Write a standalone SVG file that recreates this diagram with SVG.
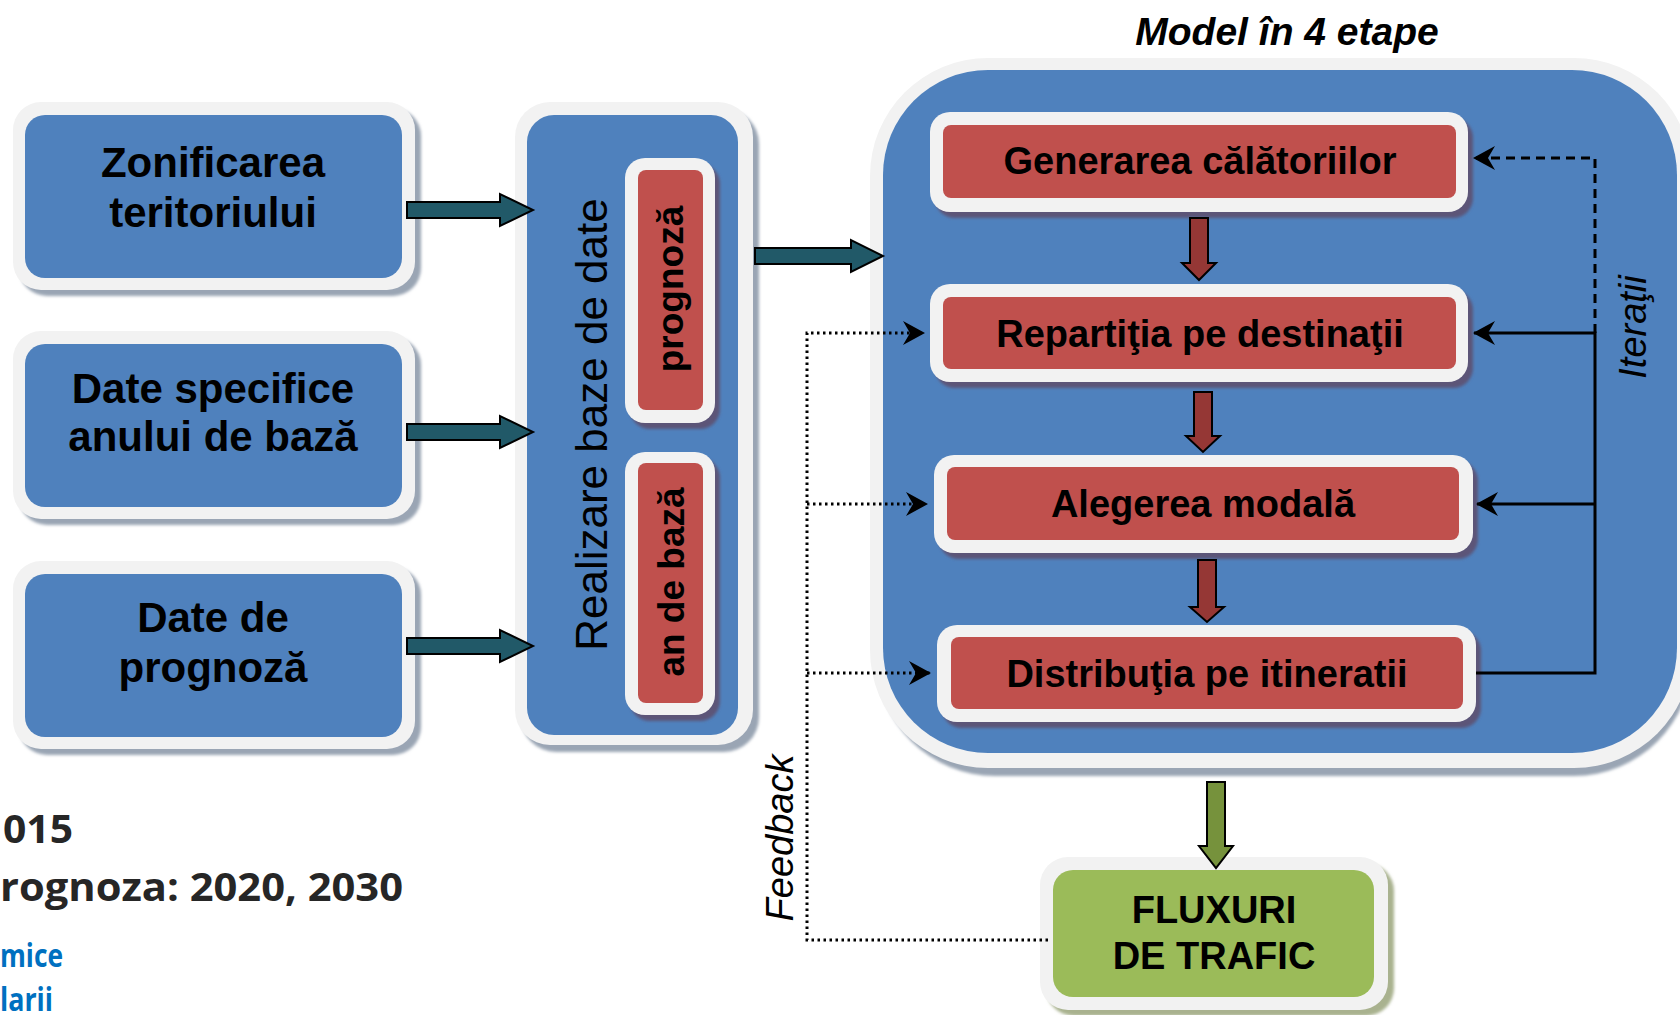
<svg xmlns="http://www.w3.org/2000/svg" width="1680" height="1015" viewBox="0 0 1680 1015">
<defs>
<filter id="blur" x="-10%" y="-10%" width="120%" height="120%"><feGaussianBlur stdDeviation="1.5"/></filter>
<marker id="stealth" viewBox="0 0 22 24" refX="21" refY="12" markerWidth="22" markerHeight="24" markerUnits="userSpaceOnUse" orient="auto"><path d="M0,0 L22,12 L0,24 L7,12 Z" fill="#000"/></marker>
</defs>
<style>
.big{font-family:"Liberation Sans",Arial,sans-serif;font-weight:bold;font-size:42px;fill:#000;text-anchor:middle}
.step{font-family:"Liberation Sans",Arial,sans-serif;font-weight:bold;font-size:38px;fill:#000;text-anchor:middle}
.sub{font-family:"Liberation Sans",Arial,sans-serif;font-weight:bold;font-size:37px;fill:#000;text-anchor:middle}
.vert{font-family:"Liberation Sans",Arial,sans-serif;font-size:44px;fill:#000;text-anchor:middle}
.ital{font-family:"Liberation Sans",Arial,sans-serif;font-style:italic;font-size:38px;fill:#000;text-anchor:middle}
.title{font-family:"Liberation Sans",Arial,sans-serif;font-style:italic;font-weight:bold;font-size:39px;fill:#000;text-anchor:middle}
.note{font-family:"Open Sans",Lato,sans-serif;font-weight:bold;fill:#262626}
.noteb{font-family:"Open Sans",Lato,sans-serif;font-weight:bold;fill:#0070c0}
.sh{fill:#9aa5b4;filter:url(#blur)}
.shr{fill:#5b5478;filter:url(#blur)}
.wb{fill:#f2f2f2}
.blue{fill:#4f81bd}
.red{fill:#c0504d}
.teal{fill:#215968;stroke:#000;stroke-width:2}
.darr{fill:#953735;stroke:#000;stroke-width:2}
.garr{fill:#76923c;stroke:#000;stroke-width:2}
.dot{fill:none;stroke:#000;stroke-width:3;stroke-dasharray:2.5 3.5}
.dash{fill:none;stroke:#000;stroke-width:3;stroke-dasharray:9 6}
.solid{fill:none;stroke:#000;stroke-width:3}
</style>
<rect x="0" y="0" width="1680" height="1015" fill="#fff"/>

<g id="zonificarea">
<rect class="sh" x="19" y="108" width="402" height="188" rx="28"/>
<rect class="wb" x="13" y="102" width="402" height="188" rx="28"/>
<rect class="blue" x="25" y="115" width="377" height="163" rx="20"/>
<text class="big" x="213" y="177">Zonificarea</text>
<text class="big" x="213" y="227">teritoriului</text>
</g>

<g id="date-specifice">
<rect class="sh" x="19" y="337" width="402" height="188" rx="28"/>
<rect class="wb" x="13" y="331" width="402" height="188" rx="28"/>
<rect class="blue" x="25" y="344" width="377" height="163" rx="20"/>
<text class="big" x="213" y="403">Date specifice</text>
<text class="big" x="213" y="451">anului de bază</text>
</g>

<g id="date-prognoza">
<rect class="sh" x="19" y="567" width="402" height="188" rx="28"/>
<rect class="wb" x="13" y="561" width="402" height="188" rx="28"/>
<rect class="blue" x="25" y="574" width="377" height="163" rx="20"/>
<text class="big" x="213" y="632">Date de</text>
<text class="big" x="213" y="682">prognoză</text>
</g>

<g id="baze-de-date">
<rect class="sh" x="521" y="109" width="238" height="643" rx="35"/>
<rect class="wb" x="515" y="102" width="238" height="643" rx="35"/>
<rect class="blue" x="527" y="115" width="211" height="620" rx="27"/>
<text class="vert" transform="translate(607,424.5) rotate(-90)">Realizare baze de date</text>
</g>

<g id="sub-prognoza">
<rect class="shr" x="630" y="164" width="90" height="265" rx="20"/>
<rect class="wb" x="625" y="158" width="90" height="265" rx="20"/>
<rect class="red" x="638" y="170" width="65" height="240" rx="8"/>
<text class="sub" transform="translate(683,289) rotate(-90)">prognoză</text>
</g>

<g id="sub-an-de-baza">
<rect class="shr" x="630" y="458" width="90" height="263" rx="20"/>
<rect class="wb" x="625" y="452" width="90" height="263" rx="20"/>
<rect class="red" x="638" y="463" width="65" height="240" rx="8"/>
<text class="sub" transform="translate(684,582) rotate(-90)">an de bază</text>
</g>

<g id="model-4-etape">
<text class="title" x="1287" y="45">Model în 4 etape</text>
<rect class="sh" x="877" y="66" width="815" height="710" rx="118"/>
<rect class="wb" x="870" y="58" width="822" height="710" rx="118"/>
<rect class="blue" x="883" y="70" width="794" height="683" rx="105"/>
</g>

<g id="generarea">
<rect class="shr" x="935" y="118" width="538" height="100" rx="20"/>
<rect class="wb" x="930" y="112" width="538" height="100" rx="20"/>
<rect class="red" x="943" y="125" width="513" height="73" rx="8"/>
<text class="step" x="1200" y="174">Generarea călătoriilor</text>
</g>

<g id="repartitia">
<rect class="shr" x="935" y="290" width="538" height="98" rx="20"/>
<rect class="wb" x="930" y="284" width="538" height="98" rx="20"/>
<rect class="red" x="943" y="297" width="513" height="72" rx="8"/>
<text class="step" x="1200" y="347">Repartiţia pe destinaţii</text>
</g>

<g id="alegerea">
<rect class="shr" x="939" y="461" width="539" height="98" rx="20"/>
<rect class="wb" x="934" y="455" width="539" height="98" rx="20"/>
<rect class="red" x="947" y="467" width="512" height="73" rx="8"/>
<text class="step" x="1203" y="517">Alegerea modală</text>
</g>

<g id="distributia">
<rect class="shr" x="942" y="631" width="539" height="97" rx="20"/>
<rect class="wb" x="937" y="625" width="539" height="97" rx="20"/>
<rect class="red" x="951" y="637" width="512" height="72" rx="8"/>
<text class="step" x="1207" y="687">Distribuţia pe itineratii</text>
</g>

<g id="fluxuri">
<rect class="sh" x="1046" y="863" width="348" height="153" rx="28" style="fill:#a9b28f"/>
<rect class="wb" x="1040" y="857" width="348" height="153" rx="28"/>
<rect x="1053" y="870" width="321" height="127" rx="20" fill="#9bbb59"/>
<text class="step" x="1214" y="923">FLUXURI</text>
<text class="step" x="1214" y="969">DE TRAFIC</text>
</g>

<g id="connectors">
<polygon class="teal" points="407,202 500,202 500,194 533,210 500,226 500,218 407,218"/>
<polygon class="teal" points="407,424 500,424 500,416 533,432 500,448 500,440 407,440"/>
<polygon class="teal" points="407,638 500,638 500,630 533,646 500,662 500,654 407,654"/>
<polygon class="teal" points="755,248 851,248 851,240 883,256 851,272 851,264 755,264"/>
<polygon class="darr" points="1190,218 1208,218 1208,263 1216,263 1199,280 1182,263 1190,263"/>
<polygon class="darr" points="1194,392 1212,392 1212,436 1220,436 1203,452 1186,436 1194,436"/>
<polygon class="darr" points="1198,560 1216,560 1216,607 1224,607 1207,622 1190,607 1198,607"/>
<polygon class="garr" points="1207,782 1225,782 1225,846 1233,846 1216,868 1199,846 1207,846"/>
<path class="dash" d="M1595,333 V158 H1474" marker-end="url(#stealth)"/>
<path class="solid" d="M1476,673 H1595 V333 H1474" marker-end="url(#stealth)"/>
<path class="solid" d="M1595,504 H1477" marker-end="url(#stealth)"/>
<path class="dot" d="M1048,940 H807 V333 H924" marker-end="url(#stealth)"/>
<path class="dot" d="M807,504 H927" marker-end="url(#stealth)"/>
<path class="dot" d="M807,673 H930" marker-end="url(#stealth)"/>
<text class="ital" transform="translate(1646,327) rotate(-90)">Iteraţii</text>
<text class="ital" transform="translate(793,838) rotate(-90)">Feedback</text>
</g>

<g id="note">
<text class="note" x="3" y="843" font-size="40" textLength="70" lengthAdjust="spacingAndGlyphs">015</text>
<text class="note" x="0" y="901" font-size="40" textLength="403" lengthAdjust="spacingAndGlyphs">rognoza: 2020, 2030</text>
<text class="noteb" x="0" y="967" font-size="32" textLength="63" lengthAdjust="spacingAndGlyphs">mice</text>
<text class="noteb" x="0" y="1011" font-size="32" textLength="53" lengthAdjust="spacingAndGlyphs">larii</text>
</g>
</svg>
